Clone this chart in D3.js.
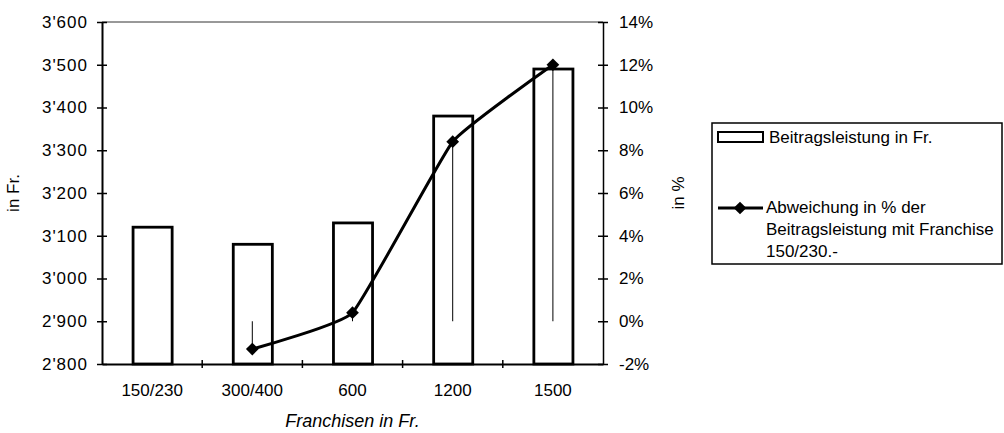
<!DOCTYPE html>
<html>
<head>
<meta charset="utf-8">
<script src="https://cdn.jsdelivr.net/npm/d3@7"></script>
<style>
  body { margin: 0; background: #fff; }
  svg { display: block; font-family: "Liberation Sans", Arial, Helvetica, sans-serif; }
  .tick text { font-size: 17px; fill: #000; }
</style>
</head>
<body>
<div id="chart"></div>
<script>
// Franchisen (categories) and the two series
const categories = ['150/230', '300/400', '600', '1200', '1500'];
const beitrag = [3120, 3080, 3130, 3380, 3490];      // Beitragsleistung in Fr.
const abweichung = [null, -1.3, 0.4, 8.4, 12.0];      // Abweichung in %
const leftTicks = [2800, 2900, 3000, 3100, 3200, 3300, 3400, 3500, 3600];
const rightTicks = [-2, 0, 2, 4, 6, 8, 10, 12, 14];

const W = 1004, H = 433;
const margin = {t: 22, r: 401, b: 69, l: 102};
const w = W - margin.l - margin.r;
const h = H - margin.t - margin.b;

const svg = d3.select('#chart')
  .append('svg')
  .attr('width', W)
  .attr('height', H);

const plot = svg.append('g')
  .attr('transform', `translate(${margin.l}, ${margin.t})`);

const x = d3.scaleBand().domain(categories).range([0, w]).padding(0);
const yL = d3.scaleLinear().domain([2800, 3600]).range([h, 0]);
const yR = d3.scaleLinear().domain([-2, 14]).range([h, 0]);

// swiss style thousands: 3'600
const chFormat = d3.formatLocale({decimal: '.', thousands: "'", grouping: [3], currency: ['', '']}).format(',');

// top border of plot area
plot.append('line')
  .attr('x1', 0).attr('x2', w).attr('y1', 0).attr('y2', 0)
  .attr('stroke', '#333').attr('stroke-width', 1);

// bars
const bw = x.bandwidth();
plot.selectAll('.bar')
  .data(categories)
  .enter()
  .append('rect')
  .attr('class', 'bar')
  .attr('x', d => x(d) + bw * 0.31)
  .attr('width', bw * 0.39)
  .attr('y', (d, i) => yL(beitrag[i]))
  .attr('height', (d, i) => h - yL(beitrag[i]))
  .attr('fill', '#fff')
  .attr('stroke', '#000')
  .attr('stroke-width', 2.8);

// left axis
const axL = plot.append('g')
  .call(d3.axisLeft(yL).tickValues(leftTicks).tickFormat(chFormat).tickSizeInner(5).tickSizeOuter(0).tickPadding(9));
axL.select('.domain').attr('stroke-width', 2);
axL.selectAll('.tick line').attr('x1', 5).attr('stroke-width', 1.5);
axL.selectAll('.tick text').attr('letter-spacing', '1px');

// right axis
const axR = plot.append('g')
  .attr('transform', `translate(${w}, 0)`)
  .call(d3.axisRight(yR).tickValues(rightTicks).tickFormat(d => d + '%').tickSizeInner(5).tickSizeOuter(0).tickPadding(11));
axR.select('.domain').attr('stroke-width', 1.5);
axR.selectAll('.tick line').attr('x1', -5).attr('stroke-width', 1.5);

// bottom axis: labels at band centres, ticks at band boundaries
const axB = plot.append('g')
  .attr('transform', `translate(0, ${h})`)
  .call(d3.axisBottom(x).tickSize(0).tickPadding(20));
axB.select('.domain').attr('stroke-width', 2);
axB.selectAll('.sep')
  .data(categories.slice(1))
  .enter()
  .append('line')
  .attr('class', 'sep')
  .attr('x1', d => x(d)).attr('x2', d => x(d))
  .attr('y1', -4).attr('y2', 4)
  .attr('stroke', '#000').attr('stroke-width', 1.5);

// line series
const pts = categories.map((c, i) => ({c: c, v: abweichung[i]})).filter(d => d.v !== null);

// drop lines to 0%
plot.selectAll('.drop')
  .data(pts)
  .enter()
  .append('line')
  .attr('class', 'drop')
  .attr('x1', d => x(d.c) + bw / 2).attr('x2', d => x(d.c) + bw / 2)
  .attr('y1', yR(0)).attr('y2', d => yR(d.v))
  .attr('stroke', '#000').attr('stroke-width', 1);

// light smoothing, like the spreadsheet's smoothed line
const line = d3.line()
  .x(d => x(d.c) + bw / 2)
  .y(d => yR(d.v))
  .curve(d3.curveCardinal.tension(0.65));

plot.append('path')
  .datum(pts)
  .attr('d', line)
  .attr('fill', 'none')
  .attr('stroke', '#000')
  .attr('stroke-width', 3);

const diamond = d3.symbol().type(d3.symbolSquare).size(81);
plot.selectAll('.marker')
  .data(pts)
  .enter()
  .append('path')
  .attr('class', 'marker')
  .attr('d', diamond)
  .attr('transform', d => `translate(${x(d.c) + bw / 2}, ${yR(d.v)}) rotate(45)`)
  .attr('fill', '#000');

// axis titles
svg.append('text')
  .attr('transform', `translate(19, ${margin.t + h / 2}) rotate(-90)`)
  .attr('text-anchor', 'middle')
  .style('font-size', '17px')
  .text('in Fr.');

svg.append('text')
  .attr('transform', `translate(684, ${margin.t + h / 2}) rotate(-90)`)
  .attr('text-anchor', 'middle')
  .style('font-size', '17px')
  .text('in %');

svg.append('text')
  .attr('x', margin.l + w / 2)
  .attr('y', 427)
  .attr('text-anchor', 'middle')
  .style('font-size', '18px')
  .style('font-style', 'italic')
  .text('Franchisen in Fr.');

// legend
const lg = svg.append('g');
lg.append('rect')
  .attr('x', 712).attr('y', 123)
  .attr('width', 290).attr('height', 141)
  .attr('fill', '#fff').attr('stroke', '#000').attr('stroke-width', 1.5);

lg.append('rect')
  .attr('x', 718).attr('y', 132)
  .attr('width', 45).attr('height', 10)
  .attr('fill', '#fff').attr('stroke', '#000').attr('stroke-width', 2);
lg.append('text')
  .attr('x', 769).attr('y', 143)
  .style('font-size', '17px')
  .text('Beitragsleistung in Fr.');

lg.append('line')
  .attr('x1', 718).attr('x2', 763).attr('y1', 208).attr('y2', 208)
  .attr('stroke', '#000').attr('stroke-width', 3);
lg.append('path')
  .attr('d', diamond)
  .attr('transform', 'translate(740, 208) rotate(45)')
  .attr('fill', '#000');
const lt = lg.append('text')
  .attr('x', 766).attr('y', 213)
  .style('font-size', '17px');
['Abweichung in % der', 'Beitragsleistung mit Franchise', '150/230.-'].forEach((s, i) => {
  lt.append('tspan').attr('x', 766).attr('dy', i === 0 ? 0 : 22).text(s);
});
</script>
</body>
</html>
